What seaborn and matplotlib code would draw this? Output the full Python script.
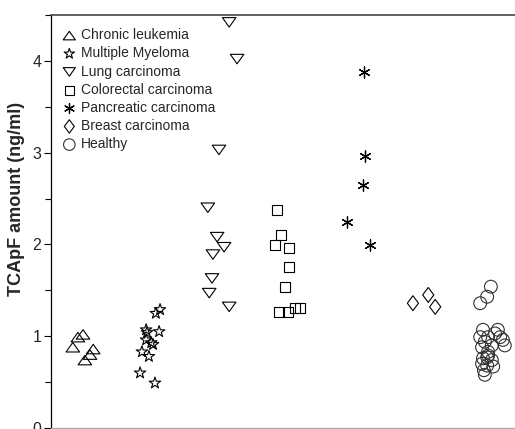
import numpy as np
import pandas as pd
import matplotlib
matplotlib.use("Agg")
import matplotlib.pyplot as plt
from matplotlib.path import Path
from matplotlib.ticker import MultipleLocator
import seaborn as sns

# ──────────────────────────────────────────────
# Data (x is the jittered position, 0-10 scale)
# ──────────────────────────────────────────────
groups = [
    "Chronic leukemia",
    "Multiple Myeloma",
    "Lung carcinoma",
    "Colorectal carcinoma",
    "Pancreatic carcinoma",
    "Breast carcinoma",
    "Healthy",
]

leukemia_x = [0.69, 0.58, 0.47, 0.91, 0.84, 0.73]
leukemia_y = [1.02, 0.99, 0.88, 0.86, 0.80, 0.74]

myeloma_x = [2.35, 2.26, 2.05, 2.07, 2.33, 2.05, 2.20, 1.96, 2.11, 1.92, 2.24, 2.16]
myeloma_y = [1.29, 1.25, 1.07, 1.04, 1.05, 0.96, 0.91, 0.83, 0.78, 0.60, 0.49, 0.93]

lung_x = [3.84, 4.01, 3.62, 3.38, 3.58, 3.73, 3.49, 3.47, 3.41, 3.84]
lung_y = [4.42, 4.02, 3.03, 2.40, 2.08, 1.97, 1.89, 1.63, 1.47, 1.32]

colorectal_x = [4.87, 4.96, 4.83, 5.13, 5.13, 5.04, 4.91, 5.11, 5.26, 5.37]
colorectal_y = [2.38, 2.10, 1.99, 1.96, 1.75, 1.54, 1.26, 1.26, 1.31, 1.31]

pancreatic_x = [6.75, 6.77, 6.72, 6.38, 6.88]
pancreatic_y = [3.88, 2.96, 2.65, 2.25, 1.99]

breast_x = [7.80, 8.13, 8.28]
breast_y = [1.36, 1.45, 1.32]

healthy_x = [9.48, 9.40, 9.25, 9.31, 9.63, 9.57, 9.68, 9.25, 9.42, 9.78, 9.74,
             9.35, 9.50, 9.29, 9.42, 9.31, 9.40, 9.29, 9.50, 9.53, 9.40, 9.33,
             9.35, 9.42]
healthy_y = [1.54, 1.43, 1.36, 1.07, 1.07, 1.03, 0.99, 0.99, 0.99, 0.90, 0.96,
             0.94, 0.90, 0.88, 0.83, 0.76, 0.77, 0.70, 0.74, 0.67, 0.68, 0.63,
             0.58, 0.79]

xs = [leukemia_x, myeloma_x, lung_x, colorectal_x, pancreatic_x, breast_x, healthy_x]
ys = [leukemia_y, myeloma_y, lung_y, colorectal_y, pancreatic_y, breast_y, healthy_y]

df = pd.concat(
    [pd.DataFrame({"x": x, "y": y, "group": g}) for g, x, y in zip(groups, xs, ys)],
    ignore_index=True,
)

# ──────────────────────────────────────────────
# Marker styles
# ──────────────────────────────────────────────
def closed(verts):
    verts = verts + [verts[0]]
    codes = [Path.MOVETO] + [Path.LINETO] * (len(verts) - 2) + [Path.CLOSEPOLY]
    return Path(verts, codes)


tri_up = closed([(-1, -0.7), (1, -0.7), (0, 0.7)])
tri_down = closed([(-1, 0.7), (1, 0.7), (0, -0.7)])
diamond = closed([(0, 1), (0.75, 0), (0, -1), (-0.75, 0)])

styles = {
    "Chronic leukemia": dict(marker=tri_up, s=95),
    "Multiple Myeloma": dict(marker="*", s=75),
    "Lung carcinoma": dict(marker=tri_down, s=95),
    "Colorectal carcinoma": dict(marker="s", s=52),
    "Pancreatic carcinoma": dict(marker=(6, 2, 0), s=64),
    "Breast carcinoma": dict(marker=diamond, s=115),
    "Healthy": dict(marker="o", s=85),
}

sns.set_theme(style="white")
plt.rcParams["font.family"] = ["Liberation Sans", "DejaVu Sans"]

fig = plt.figure(figsize=(5.15, 4.29), dpi=100)
ax = fig.add_axes([51 / 515, 0.0023, 464 / 515, 0.9627])

for g in groups:
    sub = df[df["group"] == g]
    st = styles[g]
    if g == "Pancreatic carcinoma":
        sns.scatterplot(data=sub, x="x", y="y", marker=st["marker"], s=st["s"],
                        color="black", linewidth=0.9, ax=ax, label=g)
    else:
        edge = "#333333" if g == "Healthy" else "black"
        sns.scatterplot(data=sub, x="x", y="y", marker=st["marker"], s=st["s"],
                        facecolor="none", edgecolor=edge, linewidth=0.8,
                        ax=ax, label=g)

ax.set_xlim(0, 10)
ax.set_ylim(0, 4.5)
ax.set_xticks([])
ax.yaxis.set_major_locator(MultipleLocator(1))
ax.yaxis.set_minor_locator(MultipleLocator(0.5))
ax.tick_params(axis="y", which="major", direction="out", length=5, width=0.8,
               color="black", labelsize=11.5, left=True, pad=2)
ax.tick_params(axis="y", which="minor", direction="out", length=4, width=0.8,
               color="black", left=True)
ax.set_xlabel("")
ax.set_ylabel("TCApF amount (ng/ml)", fontsize=13, fontweight="bold")
ax.yaxis.set_label_coords(-0.056, 0.554)

ax.spines["right"].set_visible(False)
ax.spines["left"].set_color("black")
ax.spines["left"].set_linewidth(0.9)
ax.spines["top"].set_color("#444444")
ax.spines["top"].set_linewidth(1.2)
ax.spines["bottom"].set_color("#aaaaaa")
ax.spines["bottom"].set_linewidth(1.0)

leg = ax.legend(loc="upper left", bbox_to_anchor=(0.026, 0.968), frameon=False,
                fontsize=10, handlelength=0.9, handletextpad=0.4,
                labelspacing=0.3, borderaxespad=0, borderpad=0, markerscale=0.9)

fig.savefig("out.png", dpi=100)
plt.close(fig)
